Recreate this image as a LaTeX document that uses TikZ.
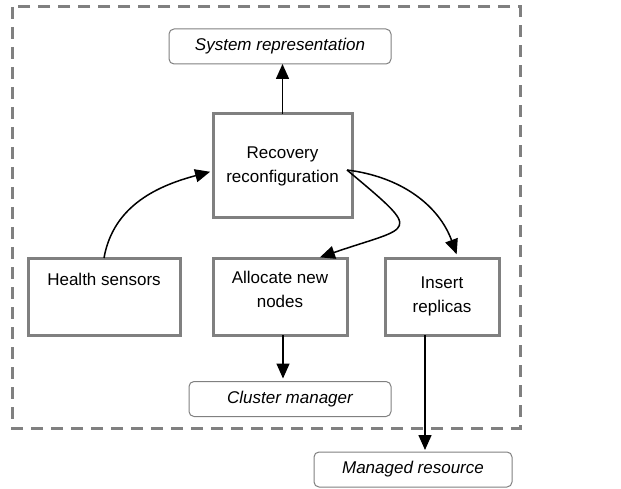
\documentclass[tikz,border=0pt]{standalone}
\usepackage{fontspec}
\setmainfont{Liberation Sans}
\usetikzlibrary{arrows.meta}

\begin{document}
\begin{tikzpicture}[x=1pt,y=1pt,
  every node/.style={font=\fontsize{17}{24}\selectfont, align=center, inner sep=0pt, outer sep=0pt},
  box/.style={draw=gray, line width=3pt, minimum height=77pt},
  ext/.style={draw=gray, line width=1pt, rounded corners=5pt, minimum height=35pt,
    font=\fontsize{17}{24}\selectfont\itshape},
  arr/.style={line width=1.5pt, -{Triangle[length=15pt,width=13pt]}}]
\useasboundingbox (0,0) rectangle (621,488);
\draw[gray, line width=3pt, dash pattern=on 12pt off 8pt] (12,481) rectangle (520,60);

\node[ext, minimum width=222pt] (sysrep) at (280,441.5) {System representation};
\node[box, minimum width=139pt, minimum height=104pt] (rec) at (282.5,322) {Recovery\\reconfiguration};

\node[box, minimum width=152pt, text depth=35pt] (health) at (104,191.5) {Health sensors};
\node[box, minimum width=134pt, text depth=15pt] (alloc) at (280,191.5) {Allocate new\\nodes};
\node[box, minimum width=114pt] (ins) at (442,191.5) {Insert\\replicas};

\node[ext, minimum width=202pt] (clus) at (290,89) {Cluster manager};
\node[ext, minimum width=198pt] (mgd) at (413,18.5) {Managed resource};

\coordinate (recout) at ([shift={(-5pt,-4pt)}]rec.east);
\coordinate (allocout) at ([xshift=3pt]alloc.south);
\coordinate (insout) at ([xshift=-17pt]ins.south);

\draw[arr] (rec.north) -- (rec.north |- sysrep.south);
\draw[arr, shorten >=3pt] (health.north) to[out=80,in=195] ([yshift=-5pt]rec.west);
\draw[arr, shorten >=2pt] (recout) to[out=-40,in=19,looseness=2.8] ([xshift=38pt]alloc.north);
\draw[arr, shorten >=4pt] (recout) to[out=-7,in=110] ([xshift=16pt]ins.north);
\draw[arr, shorten >=3pt] (allocout) -- (allocout |- clus.north);
\draw[arr, shorten >=2pt] (insout) -- (insout |- mgd.north);
\end{tikzpicture}
\end{document}
